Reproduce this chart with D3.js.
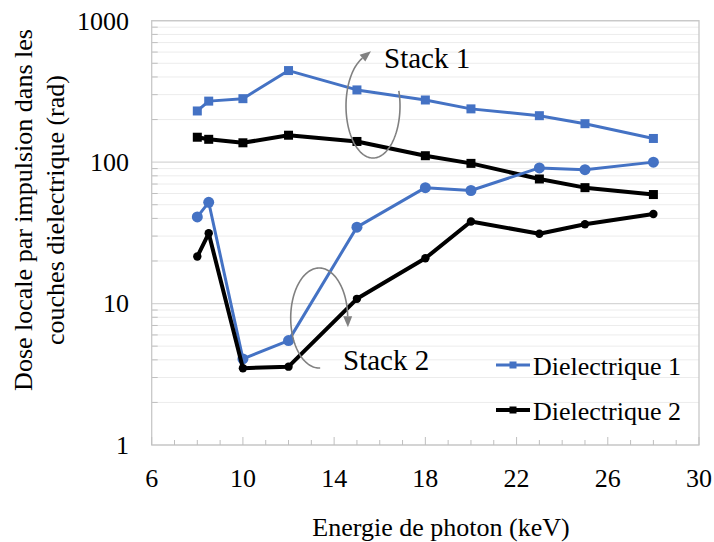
<!DOCTYPE html>
<html><head><meta charset="utf-8">
<script src="https://cdn.jsdelivr.net/npm/d3@7"></script>
<style>body{margin:0;background:#fff;}svg{display:block;}</style>
</head><body><svg id="c" width="714" height="542"></svg>
<script>
const energy = [8, 8.5, 10, 12, 15, 18, 20, 23, 25, 28];
const stack1Diel1 = [230, 270, 281, 444, 324, 275, 238, 213, 187, 147];
const stack1Diel2 = [150, 145, 137, 155, 140, 111, 98, 76, 66, 59];
const stack2Diel1 = [41, 52, 4.06, 5.47, 34.7, 66, 63, 91, 88.5, 100];
const stack2Diel2 = [21.5, 31.4, 3.49, 3.58, 10.8, 20.9, 38, 31.2, 36.4, 43];
const xTicks = [6, 10, 14, 18, 22, 26, 30];
const yTicks = [1, 10, 100, 1000];
const seriesNames = ["Dielectrique 1", "Dielectrique 2"];
const xTitle = "Energie de photon (keV)";
const yTitle = ["Dose locale par impulsion dans les", "couches dielectrique (rad)"];

const FONT = '"Liberation Serif"';
const BLUE = "#4472C4", BLACK = "#000000", GRAY = "#808080";
const svg = d3.select("#c");
const L = 151.7, R = 699, T = 20.7, B = 445;
const x = d3.scaleLinear().domain([6, 30]).range([L, R]);
const y = d3.scaleLog().domain([1, 1000]).range([B, T]);

// minor gridlines
const minorY = [];
for (let k = 0; k < 3; k++) for (let m = 2; m <= 9; m++) minorY.push(m * Math.pow(10, k));
svg.append("g").selectAll("line").data(minorY).join("line")
  .attr("x1", L).attr("x2", R).attr("y1", d => y(d)).attr("y2", d => y(d))
  .attr("stroke", "#ececec").attr("stroke-width", 1);
svg.append("g").selectAll("line").data(yTicks).join("line")
  .attr("x1", L).attr("x2", R).attr("y1", d => y(d)).attr("y2", d => y(d))
  .attr("stroke", "#d6d6d6").attr("stroke-width", 1.2);
// y minor ticks (inside)
svg.append("g").selectAll("line").data(minorY).join("line")
  .attr("x1", L).attr("x2", L + 6).attr("y1", d => y(d)).attr("y2", d => y(d))
  .attr("stroke", "#bfbfbf").attr("stroke-width", 1);
// border
svg.append("rect").attr("x", L).attr("y", T).attr("width", R - L).attr("height", B - T)
  .attr("fill", "none").attr("stroke", "#c8c8c8").attr("stroke-width", 1.3);

// x ticks inside
const minorX = d3.range(7, 30, 1).filter(v => !xTicks.includes(v));
svg.append("g").selectAll("line").data(minorX).join("line")
  .attr("x1", d => x(d)).attr("x2", d => x(d)).attr("y1", B).attr("y2", B - 5)
  .attr("stroke", "#bfbfbf").attr("stroke-width", 1);
svg.append("g").selectAll("line").data(xTicks).join("line")
  .attr("x1", d => x(d)).attr("x2", d => x(d)).attr("y1", B).attr("y2", B - 8)
  .attr("stroke", "#bfbfbf").attr("stroke-width", 1);

// tick labels
svg.append("g").selectAll("text").data(yTicks).join("text")
  .attr("x", 129).attr("y", d => y(d)).attr("dy", "0.34em")
  .attr("text-anchor", "end").attr("font-size", 26).style("font-family", FONT).text(d => d);
svg.append("g").selectAll("text").data(xTicks).join("text")
  .attr("x", d => x(d)).attr("y", 487)
  .attr("text-anchor", "middle").attr("font-size", 26).style("font-family", FONT).text(d => d);

// titles
svg.append("text").attr("x", 441).attr("y", 536).attr("text-anchor", "middle")
  .attr("font-size", 26).style("font-family", FONT).text(xTitle);
const yt = svg.append("text").attr("transform", "translate(0,210) rotate(-90)")
  .attr("text-anchor", "middle").attr("font-size", 26).style("font-family", FONT);
yt.append("tspan").attr("x", 0).attr("y", 32).text(yTitle[0]);
yt.append("tspan").attr("x", 0).attr("y", 64).text(yTitle[1]);

// lines
const line = d3.line().x((d, i) => x(energy[i])).y(d => y(d));
function drawSeries(vals, color, width, shape, size) {
  svg.append("path").datum(vals).attr("d", line).attr("fill", "none")
    .attr("stroke", color).attr("stroke-width", width).attr("stroke-linejoin", "round");
  const g = svg.append("g");
  if (shape === "square") {
    g.selectAll("rect").data(vals).join("rect")
      .attr("x", (d, i) => x(energy[i]) - size / 2).attr("y", d => y(d) - size / 2)
      .attr("width", size).attr("height", size).attr("fill", color);
  } else {
    g.selectAll("circle").data(vals).join("circle")
      .attr("cx", (d, i) => x(energy[i])).attr("cy", d => y(d)).attr("r", size).attr("fill", color);
  }
}
drawSeries(stack1Diel1, BLUE, 3, "square", 9);
drawSeries(stack1Diel2, BLACK, 4, "square", 9);
drawSeries(stack2Diel1, BLUE, 3, "circle", 5.5);
drawSeries(stack2Diel2, BLACK, 4, "circle", 4.2);

// annotation arcs
function arcArrow(cx, cy, rx, ry, a0, a1) {
  const pts = d3.range(a0, a1 + 0.01, 2).map(a => {
    const t = a * Math.PI / 180; return [cx + rx * Math.cos(t), cy + ry * Math.sin(t)];
  });
  svg.append("path").attr("d", d3.line()(pts)).attr("fill", "none")
    .attr("stroke", GRAY).attr("stroke-width", 1.6);
  const t = a1 * Math.PI / 180;
  let dx = -rx * Math.sin(t), dy = ry * Math.cos(t);
  const n = Math.hypot(dx, dy); dx /= n; dy /= n;
  const [ex, ey] = pts[pts.length - 1];
  const len = 11, w = 4.5;
  const tip = [ex + dx * len, ey + dy * len];
  const p1 = [ex - dy * w, ey + dx * w], p2 = [ex + dy * w, ey - dx * w];
  svg.append("path").attr("d", `M${tip}L${p1}L${p2}Z`).attr("fill", GRAY);
}
arcArrow(373, 106, 27, 52, -17, 247);
arcArrow(319.2, 318, 28.5, 50, 88, 358);
svg.append("text").attr("x", 384).attr("y", 68).attr("font-size", 29).style("font-family", FONT).text("Stack 1");
svg.append("text").attr("x", 343).attr("y", 370).attr("font-size", 29).style("font-family", FONT).text("Stack 2");

// legend
const lg = svg.append("g");
[[BLUE, 365, 3], [BLACK, 410, 4]].forEach(([c, ly, w], i) => {
  lg.append("line").attr("x1", 496).attr("x2", 530).attr("y1", ly).attr("y2", ly)
    .attr("stroke", c).attr("stroke-width", w);
  lg.append("rect").attr("x", 513 - 3.5).attr("y", ly - 3.5).attr("width", 7).attr("height", 7).attr("fill", c);
  lg.append("text").attr("x", 533).attr("y", ly + 10).attr("font-size", 26).style("font-family", FONT).text(seriesNames[i]);
});
</script></body></html>
